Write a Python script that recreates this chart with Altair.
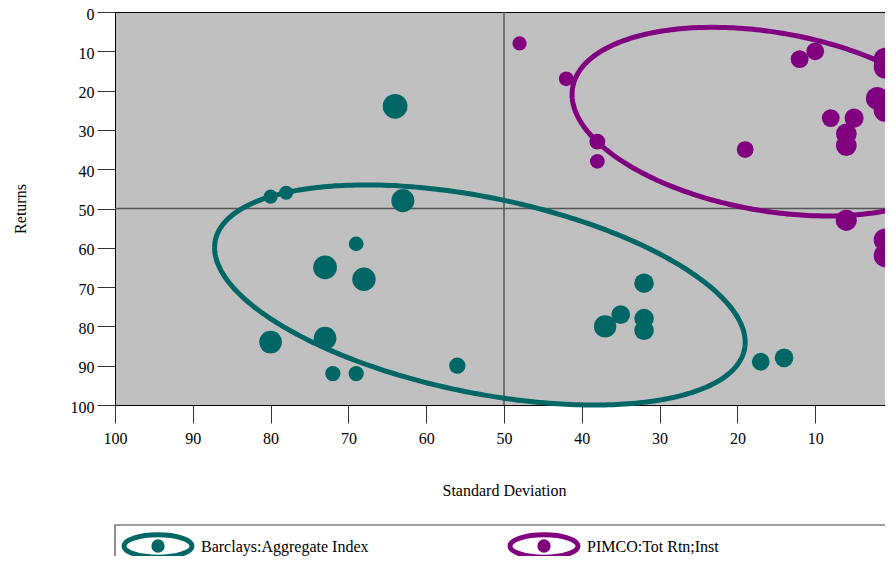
import altair as alt
import numpy as np
import pandas as pd

# ---- data -------------------------------------------------------------
series = ["Barclays:Aggregate Index", "PIMCO:Tot Rtn;Inst"]
colors = ["#006666", "#800080"]

barclays_sd = [64, 80, 78, 63, 69, 73, 68, 80, 73, 72, 69, 56, 32, 35, 37, 32, 32, 17, 14]
barclays_ret = [24, 47, 46, 48, 59, 65, 68, 84, 83, 92, 92, 90, 69, 77, 80, 78, 81, 89, 88]
barclays_wt = [3.5, 1, 1, 3, 1.1, 3.2, 3.1, 2.9, 2.9, 1.2, 1.2, 1.4, 2.1, 1.9, 2.8, 2.1, 2.1, 1.7, 1.9]

pimco_sd = [48, 42, 38, 38, 19, 12, 10, 8, 5, 6, 6, 6, 1, 1, 2, 1, 1, 1]
pimco_ret = [8, 17, 33, 38, 35, 12, 10, 27, 27, 31, 34, 53, 12, 14, 22, 25, 58, 62]
pimco_wt = [1, 1.1, 1.3, 1.1, 1.5, 1.7, 1.7, 1.7, 2, 2.4, 2.4, 2.5, 3, 3, 3, 3, 3, 3]

# ellipse: centre, spread along each axis, correlation
ell_cx = [53.1, 15.8]
ell_cy = [72.0, 27.9]
ell_sx = [34.1, 25.45]
ell_sy = [28.0, 24.0]
ell_rho = [-0.43, -0.29]

ticks = list(range(0, 101, 10))
mid = [50]

# ---- tables -----------------------------------------------------------
pts = pd.concat([
    pd.DataFrame({"series": series[0], "sd": barclays_sd, "ret": barclays_ret, "w": barclays_wt}),
    pd.DataFrame({"series": series[1], "sd": pimco_sd, "ret": pimco_ret, "w": pimco_wt}),
], ignore_index=True)

t = np.linspace(0, 2 * np.pi, 361)
ell_rows = []
for i, name in enumerate(series):
    x = ell_cx[i] + ell_sx[i] * np.cos(t)
    y = ell_cy[i] + ell_sy[i] * (ell_rho[i] * np.cos(t) + np.sqrt(1 - ell_rho[i] ** 2) * np.sin(t))
    x = np.clip(x, 0, 100)
    y = np.clip(y, 0, 100)
    ell_rows.append(pd.DataFrame({"series": name, "t": np.arange(len(t)), "sd": x, "ret": y}))
ell = pd.concat(ell_rows, ignore_index=True)

FONT = "Liberation Serif"

xscale = alt.Scale(domain=[0, 100], reverse=True, nice=False)
yscale = alt.Scale(domain=[0, 100], reverse=True, nice=False)
cscale = alt.Scale(domain=series, range=colors)

xaxis = alt.Axis(values=ticks, title="Standard Deviation", tickSize=18, labelPadding=7,
                 grid=False, domainColor="black", tickColor="#333333", labelColor="black",
                 labelFont=FONT, labelFontSize=16, titleFont=FONT, titleFontSize=16,
                 titleFontWeight="normal", titleColor="black", labelFlush=False,
                 labelOverlap=False, titleY=85, titleBaseline="middle")
yaxis = alt.Axis(values=ticks, title="Returns", tickSize=18, labelPadding=3, labelOffset=2,
                 grid=False, domainColor="black", tickColor="#333333", labelColor="black",
                 labelFont=FONT, labelFontSize=16, titleFont=FONT, titleFontSize=16,
                 titleFontWeight="normal", titleColor="black", labelOverlap=False,
                 titleX=-95, titleY=196.5, titleAlign="center", titleBaseline="middle")

base_mid = pd.DataFrame({"v": mid})
vline = alt.Chart(base_mid).mark_rule(color="#555555", strokeWidth=1.5).encode(
    x=alt.X("v:Q", scale=xscale, axis=xaxis))
hline = alt.Chart(base_mid).mark_rule(color="#555555", strokeWidth=1.5).encode(
    y=alt.Y("v:Q", scale=yscale, axis=yaxis))

ellipses = alt.Chart(ell).mark_line(strokeWidth=5).encode(
    x=alt.X("sd:Q", scale=xscale, axis=xaxis),
    y=alt.Y("ret:Q", scale=yscale, axis=yaxis),
    color=alt.Color("series:N", scale=cscale, legend=None),
    detail="series:N",
    order="t:Q",
)

points = alt.Chart(pts).mark_circle(opacity=1).encode(
    x=alt.X("sd:Q", scale=xscale, axis=xaxis),
    y=alt.Y("ret:Q", scale=yscale, axis=yaxis),
    color=alt.Color("series:N", scale=cscale, legend=None),
    size=alt.Size("w:Q", scale=alt.Scale(domain=[1, 3], range=[201, 531]), legend=None),
)

# ---- legend box -------------------------------------------------------
box = alt.Chart(pd.DataFrame({"k": [0]})).mark_rect(fill="white", stroke="#444444", strokeWidth=1.2).encode(
    x=alt.value(0), x2=alt.value(900), y=alt.value(513), y2=alt.value(620))

ell_path = "M-1,0A1,0.33,0,1,1,1,0A1,0.33,0,1,1,-1,0Z"
legend_layers = [box]
sym_x = [43, 429]
for i, name in enumerate(series):
    df = pd.DataFrame({"series": [name]})
    legend_layers.append(alt.Chart(df).mark_point(shape=ell_path, filled=False, strokeWidth=5,
                                                  size=4624, opacity=1, color=colors[i]).encode(
        x=alt.value(sym_x[i]), y=alt.value(534)))
    legend_layers.append(alt.Chart(df).mark_circle(size=177, opacity=1, color=colors[i]).encode(
        x=alt.value(sym_x[i]), y=alt.value(534)))
    legend_layers.append(alt.Chart(df).mark_text(align="left", baseline="middle", font=FONT,
                                                 fontSize=16, color="black").encode(
        x=alt.value(sym_x[i] + 43), y=alt.value(535), text="series:N"))

chart = alt.layer(vline, hline, ellipses, points, *legend_layers).properties(
    width=778, height=393,
    autosize=alt.AutoSizeParams(type="none"),
    padding={"left": 107, "top": 4, "right": -8, "bottom": 151},
    background="white",
).configure_view(fill="#c0c0c0", stroke="black", strokeWidth=1)

chart.save("out.html", embed_options={"renderer": "svg", "actions": False})
